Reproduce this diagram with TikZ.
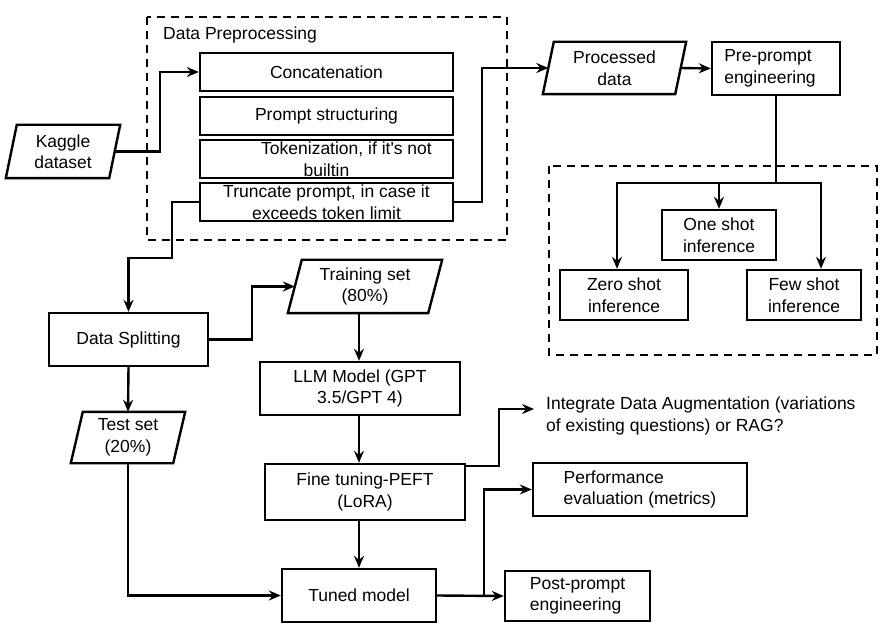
\documentclass[tikz,border=0pt]{standalone}
\usepackage{fontspec}
\setmainfont{Liberation Sans}[Ligatures=TeXOff]
\usetikzlibrary{arrows.meta}
\newcommand\drawpara[2]{\draw[line width=2.4pt] ([xshift=#2]#1.north west) -- (#1.north east) -- ([xshift=-#2]#1.south east) -- (#1.south west) -- cycle;}
\begin{document}
\begin{tikzpicture}[x=1pt,y=-1pt,
 font=\fontsize{17.5}{21.5}\selectfont,
 box/.style={draw, line width=2.4pt, inner sep=0pt, align=center},
 para/.style={inner sep=0pt, align=center},
 conn/.style={line width=2.4pt},
 arr/.style={conn, -{Stealth[length=12pt,width=10pt,inset=4pt]}},
 grp/.style={draw, line width=2.2pt, dash pattern=on 8pt off 6pt}]
\useasboundingbox[fill=white] (0,0) rectangle (881,628);

% groups
\draw[grp] (147,17) rectangle (507,240);
\draw[grp] (549,166) rectangle (877,355);
\node[anchor=west, inner sep=0pt] (dplabel) at (163,35) {Data Preprocessing};

% preprocessing boxes
\node[box, minimum width=253, minimum height=38] (concat) at (326.5,72) {Concatenation};
\node[box, minimum width=253, minimum height=38] (prompt) at (326.5,116) {Prompt structuring};
\node[box, minimum width=253, minimum height=38] (token) at (326.5,159) {\hspace*{40pt}Tokenization, if it's not\\builtin};
\node[box, minimum width=253, minimum height=38] (trunc) at (326.5,202) {Truncate prompt, in case it\\exceeds token limit};

% parallelograms
\node[para, minimum width=114, minimum height=53] (kaggle) at (63,151.5) {Kaggle\\dataset};
\drawpara{kaggle}{11pt}
\node[para, minimum width=143, minimum height=52] (proc) at (614.5,68) {Processed\\data};
\drawpara{proc}{11pt}
\node[para, minimum width=154, minimum height=53] (train) at (365,286.5) {Training set\\(80\%)};
\drawpara{train}{14pt}
\node[para, minimum width=114, minimum height=51] (test) at (128,437.5) {Test set\\(20\%)};
\drawpara{test}{12pt}

% other boxes
\node[box, minimum width=128, minimum height=53, align=left] (pre) at (776,68.5) {\hspace*{-12pt}Pre-prompt\\\hspace*{-12pt}engineering};
\node[box, minimum width=114, minimum height=50] (one) at (719,235) {One shot\\inference};
\node[box, minimum width=128, minimum height=50] (zero) at (624,295) {Zero shot\\inference};
\node[box, minimum width=114, minimum height=50] (few) at (804,295) {Few shot\\inference};
\node[box, minimum width=159, minimum height=53] (split) at (128.5,339.5) {Data Splitting};
\node[box, minimum width=200, minimum height=53] (llm) at (360,388.5) {LLM Model (GPT\\3.5/GPT 4)};
\node[box, minimum width=200, minimum height=56] (fine) at (365,492) {Fine tuning-PEFT\\(LoRA)};
\node[box, minimum width=154, minimum height=53] (tuned) at (359,595.5) {Tuned model};
\node[box, minimum width=214, minimum height=53, align=left] (perf) at (640,489.5) {Performance\\evaluation (metrics)};
\node[box, minimum width=145, minimum height=50, align=left] (post) at (577.5,596) {Post-prompt\\engineering};
\node[anchor=west, inner xsep=12pt, inner ysep=0pt, align=left] (integ) at (534,416) {Integrate Data Augmentation (variations\\of existing questions) or RAG?};

% connectors
\draw[arr] ([xshift=-5.5pt]kaggle.east) -| (160,72) -- (concat.west);
\draw[arr] (trunc.east) -| (482,68) -- ([xshift=5.5pt]proc.west);
\draw[arr] (trunc.west) -| (172,258) -| (split.north);
\draw[arr] ([xshift=-5.5pt]proc.east) -- (pre.west);
\coordinate (fork) at (776,183);
\draw[conn] (pre.south) -- (fork);
\draw[arr] (fork) -| ([xshift=-7pt]zero.north);
\draw[arr] (fork) -| ([xshift=17pt]few.north);
\draw[arr] (fork -| one.north) -- (one.north);
\draw[arr] (split.east) -| (252,286.5) -- ([xshift=7pt]train.west);
\draw[arr] (split.south) -- (test.north);
\draw[arr] (train.south -| tuned.north) -- (llm.north -| tuned.north);
\draw[arr] (llm.south -| tuned.north) -- (fine.north -| tuned.north);
\draw[arr] (fine.south -| tuned.north) -- (tuned.north);
\draw[arr] (test.south) |- (tuned.west);
\draw[arr] ([yshift=26pt]fine.east) -| (499,409) -- ([yshift=7pt]integ.west);
\draw[arr] (tuned.east) -- (post.west);
\coordinate (br) at (484,595.5);
\draw[arr] (br) |- (perf.west);
\end{tikzpicture}
\end{document}
